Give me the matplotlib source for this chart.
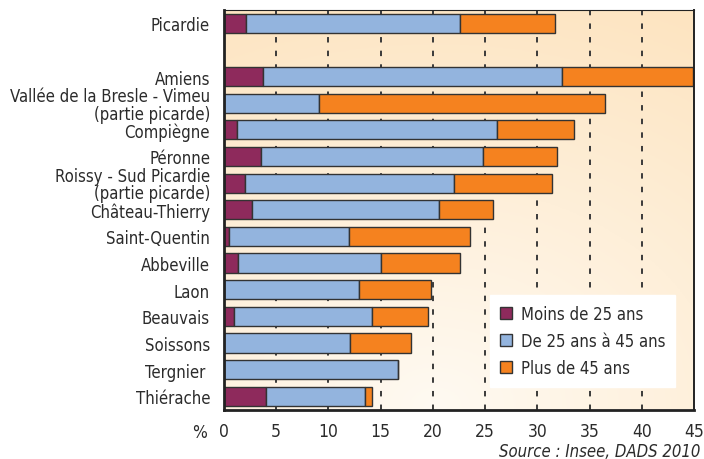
import numpy as np
import matplotlib
matplotlib.use("Agg")
import matplotlib.pyplot as plt

# zones d'emploi, Picardie en tête (séparée par une ligne vide)
zones = ["Picardie", "Amiens", "Vallée de la Bresle - Vimeu\n(partie picarde)",
         "Compiègne", "Péronne", "Roissy - Sud Picardie\n(partie picarde)",
         "Château-Thierry", "Saint-Quentin", "Abbeville", "Laon", "Beauvais",
         "Soissons", "Tergnier ", "Thiérache"]
moins_25 = [2.1, 3.7, 0.0, 1.2, 3.5, 2.0, 2.7, 0.5, 1.3, 0.0, 1.0, 0.0, 0.0, 4.0]
de_25_45 = [20.5, 28.7, 9.1, 24.9, 21.3, 20.0, 17.9, 11.5, 13.7, 12.9, 13.2, 12.1, 16.7, 9.5]
plus_45 = [9.1, 12.5, 27.4, 7.4, 7.1, 9.4, 5.2, 11.6, 7.6, 6.9, 5.3, 5.8, 0.0, 0.7]
series_labels = ["Moins de 25 ans", "De 25 ans à 45 ans", "Plus de 45 ans"]
colors = ["#8e2a5c", "#93b4de", "#f5821f"]
xticks = [0, 5, 10, 15, 20, 25, 30, 35, 40, 45]

plt.rcParams['font.family'] = ["DejaVu Sans"]
plt.rcParams['font.stretch'] = "condensed"
TXT = "#2b2b2b"
FS = 12

fig = plt.figure(figsize=(7.04, 4.6), dpi=100)
ax = fig.add_axes([224 / 704, 1 - 410.5 / 460, 470 / 704, 399.5 / 460])

# fond dégradé crème -> pêche
nx, ny = 200, 120
gx, gy = np.meshgrid(np.linspace(0, 1, nx), np.linspace(0, 1, ny))
r = np.sqrt(((gx - 0.45) / 1.1) ** 2 + (gy / 1.0) ** 2)
r = np.clip(r / r.max(), 0, 1)
c0 = np.array([255, 250, 242]) / 255
c1 = np.array([253, 228, 192]) / 255
img = c0[None, None, :] * (1 - r[..., None]) + c1[None, None, :] * r[..., None]
ax.imshow(img, extent=[0, 45, 14.5, -0.5], origin="lower", aspect="auto", zorder=0)

ypos = [0] + [i + 2 for i in range(len(zones) - 1)]
left = np.zeros(len(zones))
for vals, col, lab in zip([moins_25, de_25_45, plus_45], colors, series_labels):
    vals = np.array(vals)
    ax.barh(ypos, vals, left=left, height=0.72, color=col, edgecolor="#333333",
            linewidth=1.0, label=lab, zorder=3)
    left += vals

for x in xticks[1:-1]:
    ax.axvline(x, color="#3a3a3a", lw=1.4, ls=(0, (2.8, 4.2)), zorder=1)

ax.set_xlim(0, 45)
ax.set_ylim(14.5, -0.5)
ax.set_xticks(xticks)
ax.set_xticklabels([str(x) for x in xticks], fontsize=12.5, color=TXT)
ax.set_yticks(ypos)
ax.set_yticklabels(zones, fontsize=FS, color=TXT, linespacing=0.95)
ax.tick_params(axis="x", length=0, pad=9)
ax.tick_params(axis="y", length=0, pad=10)

for side, lw in [("left", 2.0), ("bottom", 2.0), ("top", 0.8), ("right", 1.4)]:
    ax.spines[side].set_linewidth(lw)
    ax.spines[side].set_color("#222222")
    ax.spines[side].set_zorder(5)

leg = ax.legend(loc="lower right", bbox_to_anchor=(0.978, 0.035), fontsize=FS,
                frameon=True, fancybox=False, framealpha=1, edgecolor="white",
                handlelength=0.75, handleheight=0.75, handletextpad=0.5,
                labelspacing=0.55, borderpad=0.6, labelcolor=TXT)
leg.set_zorder(6)

fig.text(200 / 704, 1 - 433 / 460, "%", fontsize=12.5, color=TXT, ha="center", va="center")
fig.text(700 / 704, 1 - 452 / 460, "Source : Insee, DADS 2010", fontsize=FS,
         color=TXT, style="italic", ha="right", va="center")

fig.savefig("out.png", dpi=100)
